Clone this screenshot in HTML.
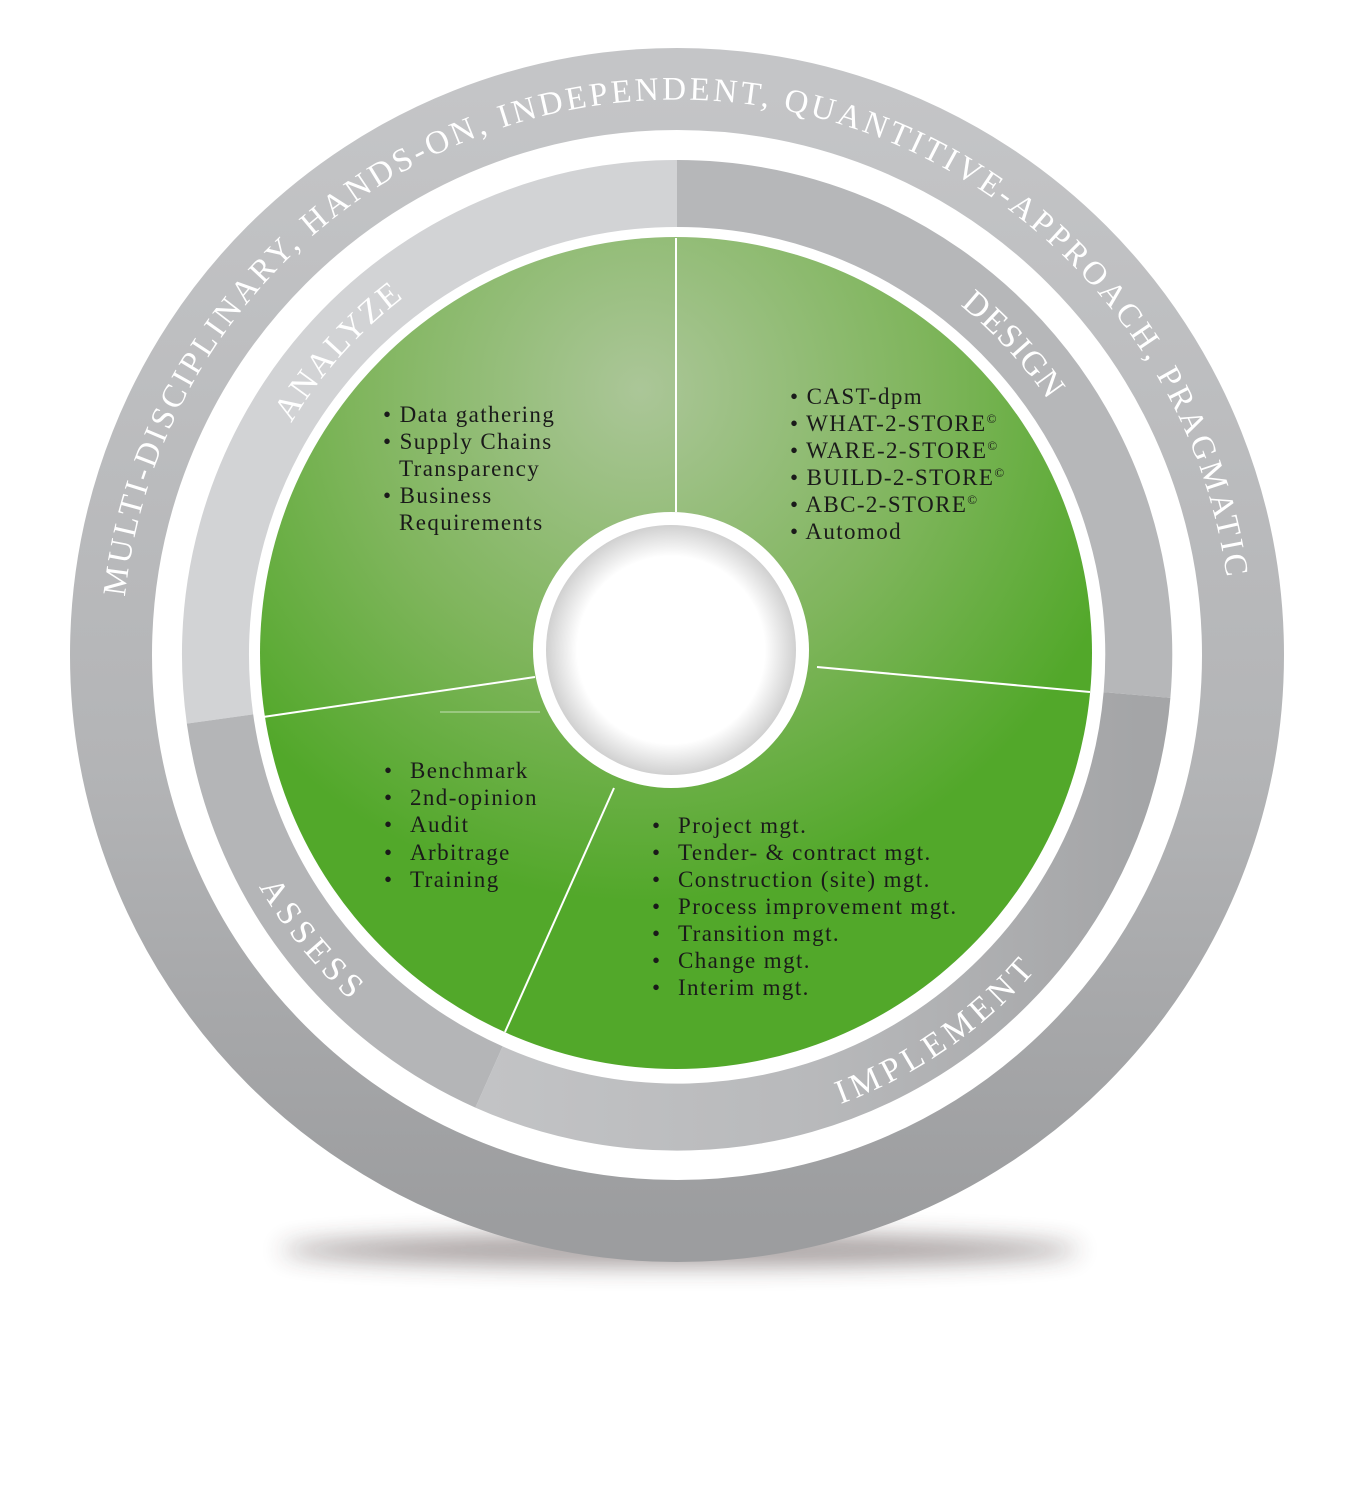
<!DOCTYPE html>
<html><head><meta charset="utf-8"><style>
html,body{margin:0;padding:0;background:#fff}
svg{display:block}
.t{font-family:"Liberation Serif",serif;fill:#1a1a1a;font-size:23px;letter-spacing:1.4px}
.w{font-family:"Liberation Serif",serif;fill:#fff}
</style></head><body>
<svg width="1360" height="1489" viewBox="0 0 1360 1489" xmlns="http://www.w3.org/2000/svg">
<defs>
<radialGradient id="g" cx="640" cy="390" r="640" gradientUnits="userSpaceOnUse">
<stop offset="0" stop-color="#abc698"/><stop offset="0.45" stop-color="#7fb55c"/><stop offset="0.8" stop-color="#52a82a"/><stop offset="1" stop-color="#52a82a"/>
</radialGradient>
<linearGradient id="og" x1="0" y1="0" x2="0" y2="1">
<stop offset="0" stop-color="#c4c5c7"/><stop offset="0.6" stop-color="#b3b4b6"/><stop offset="1" stop-color="#9c9d9f"/>
</linearGradient>
<linearGradient id="ig" x1="0" y1="0" x2="1" y2="0">
<stop offset="0" stop-color="#c2c3c5"/><stop offset="0.5" stop-color="#b8b9bb"/><stop offset="1" stop-color="#a4a5a7"/>
</linearGradient>
<radialGradient id="hole" cx="0.5" cy="0.5" r="0.5">
<stop offset="0.75" stop-color="#fff"/><stop offset="1" stop-color="#d0d0d0"/>
</radialGradient>
<filter id="blur" x="-20%" y="-200%" width="140%" height="500%"><feGaussianBlur stdDeviation="12"/></filter>
<path id="po" d="M125,597 A555 555 0 0 1 1229,597"/>
<path id="pa" d="M291.3,423.2 A450 450 0 0 1 406.2,295.6"/>
<path id="pd" d="M960.2,305.3 A450 450 0 0 1 1052.3,406.6"/>
<path id="ps" d="M259,886.7 A478 478 0 0 0 380,1025"/>
<path id="pi" d="M840.5,1104 A478 478 0 0 0 1060,940"/>
</defs>
<ellipse cx="680" cy="1250" rx="400" ry="16" fill="#3a2a2a" opacity="0.45" filter="url(#blur)"/>
<circle cx="677" cy="655" r="566" fill="none" stroke="url(#og)" stroke-width="82"/>
<path d="M220,719 A461.5 461.5 0 0 1 677,193.5" fill="none" stroke="#d2d3d5" stroke-width="67"/>
<path d="M677,193.5 A461.5 461.5 0 0 1 1137,695" fill="none" stroke="#b6b7b9" stroke-width="67"/>
<path d="M1137,695 A461.5 461.5 0 0 1 489,1077" fill="none" stroke="url(#ig)" stroke-width="67"/>
<path d="M489,1077 A461.5 461.5 0 0 1 220,719" fill="none" stroke="#b4b5b7" stroke-width="67"/>
<circle cx="676" cy="653" r="416" fill="url(#g)"/>
<g stroke="#fff" stroke-width="2">
<line x1="676" y1="238" x2="676" y2="512"/>
<line x1="817" y1="667" x2="1090" y2="692"/>
<line x1="614" y1="788" x2="505" y2="1032"/>
<line x1="263" y1="717" x2="535" y2="677"/>
<line x1="440" y1="712" x2="540" y2="712" stroke-width="1" opacity="0.6"/>
</g>
<circle cx="671" cy="650" r="138" fill="#fff"/>
<circle cx="671" cy="650" r="125" fill="url(#hole)"/>
<text class="w" font-size="33" letter-spacing="2"><textPath href="#po" textLength="1610">MULTI-DISCIPLINARY, HANDS-ON, INDEPENDENT, QUANTITIVE-APPROACH, PRAGMATIC</textPath></text>
<text class="w" font-size="34" letter-spacing="2"><textPath href="#pa">ANALYZE</textPath></text>
<text class="w" font-size="34" letter-spacing="1"><textPath href="#pd">DESIGN</textPath></text>
<text class="w" font-size="34" letter-spacing="5"><textPath href="#ps">ASSESS</textPath></text>
<text class="w" font-size="34" letter-spacing="5"><textPath href="#pi">IMPLEMENT</textPath></text>
<g class="t">
<text x="383" y="422">• Data gathering</text>
<text x="383" y="449">• Supply Chains</text>
<text x="399" y="476">Transparency</text>
<text x="383" y="503">• Business</text>
<text x="399" y="530">Requirements</text>
<text x="790" y="404">• CAST-dpm</text>
<text x="790" y="431">• WHAT-2-STORE<tspan font-size="13" dy="-8">©</tspan></text>
<text x="790" y="458">• WARE-2-STORE<tspan font-size="13" dy="-8">©</tspan></text>
<text x="790" y="485">• BUILD-2-STORE<tspan font-size="13" dy="-8">©</tspan></text>
<text x="790" y="512">• ABC-2-STORE<tspan font-size="13" dy="-8">©</tspan></text>
<text x="790" y="539">• Automod</text>
</g>
<g class="t">
<text x="384" y="778">•</text><text x="410" y="778">Benchmark</text>
<text x="384" y="805">•</text><text x="410" y="805">2nd-opinion</text>
<text x="384" y="832">•</text><text x="410" y="832">Audit</text>
<text x="384" y="860">•</text><text x="410" y="860">Arbitrage</text>
<text x="384" y="887">•</text><text x="410" y="887">Training</text>
<text x="652" y="833">•</text><text x="678" y="833">Project mgt.</text>
<text x="652" y="860">•</text><text x="678" y="860">Tender- &amp; contract mgt.</text>
<text x="652" y="887">•</text><text x="678" y="887">Construction (site) mgt.</text>
<text x="652" y="914">•</text><text x="678" y="914">Process improvement mgt.</text>
<text x="652" y="941">•</text><text x="678" y="941">Transition mgt.</text>
<text x="652" y="968">•</text><text x="678" y="968">Change mgt.</text>
<text x="652" y="995">•</text><text x="678" y="995">Interim mgt.</text>
</g>
</svg>
</body></html>
